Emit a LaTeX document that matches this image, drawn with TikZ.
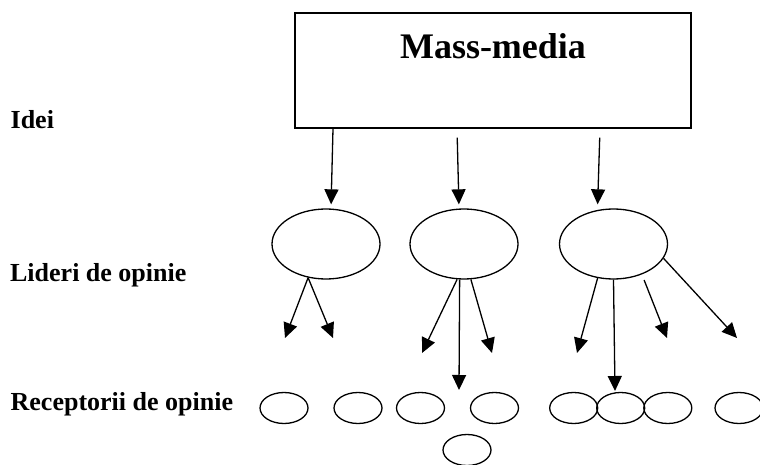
\documentclass[tikz,border=0pt]{standalone}
\usepackage{fontspec}
\setmainfont{Liberation Serif}
\usetikzlibrary{arrows.meta,shapes.geometric}
\begin{document}
\begin{tikzpicture}[x=1pt, y=-1pt, line width=1.3pt,
    arr/.style={-{Triangle[length=15pt,width=14pt]}},
    lider/.style={draw, ellipse, inner sep=0pt, minimum width=108pt, minimum height=70pt},
    receptor/.style={draw, ellipse, inner sep=0pt, minimum width=48pt, minimum height=31pt},
    rowlabel/.style={anchor=base west, inner sep=0pt, font=\fontsize{26}{30}\selectfont\bfseries}]
    \useasboundingbox (0,0) rectangle (760,465);
    % levels
    \node [rowlabel] (idei) at (10,129) {Idei};
    \node [rowlabel] (lideri) at (9.5,281) {Lideri de opinie};
    \node [rowlabel] (receptori) at (10,410) {Receptorii de opinie};
    % sursa
    \node [draw, anchor=base, inner sep=0pt, text height=46pt, text depth=69pt, minimum width=396pt,
           font=\fontsize{36}{40}\selectfont\bfseries] (MM) at (493,59) {Mass-media};
    % lideri de opinie
    \node [lider] (L1) at (326,244) {};
    \node [lider] (L2) at (464,244) {};
    \node [lider] (L3) at (613.5,244) {};
    % receptori
    \node [receptor] (R1) at (284,408) {};
    \node [receptor] (R2) at (358,408) {};
    \node [receptor] (R3) at (420.5,408) {};
    \node [receptor] (R4) at (494.5,408) {};
    \node [receptor] (R5) at (573.7,408) {};
    \node [receptor] (R6) at (620.7,408) {};
    \node [receptor] (R7) at (667.8,408) {};
    \node [receptor] (R8) at (739,408) {};
    \node [receptor] (R9) at (467,450) {};
    % capete libere
    \coordinate (t11) at (285,338);
    \coordinate (t12) at (333,338);
    \coordinate (t21) at (422,353);
    \coordinate (t22) at (459,390);
    \coordinate (t23) at (492,353);
    \coordinate (t31) at (577,353);
    \coordinate (t32) at (615,391);
    \coordinate (t33) at (667,338);
    \coordinate (t34) at (737,338);
    % idei
    \path[arr, shorten >=4pt] ([xshift=-160pt]MM.south) edge ([xshift=5pt]L1.north);
    \path[arr, shorten >=4pt, shorten <=9pt] ([xshift=-36pt]MM.south) edge ([xshift=-5pt]L2.north);
    \path[arr, shorten >=4pt, shorten <=9pt] ([xshift=107pt]MM.south) edge ([xshift=-16pt]L3.north);
    % opinii
    \path[arr] (L1.-118) edge (t11);
    \path[arr] (L1.-118) edge (t12);
    \path[arr] (L2.-101) edge (t21);
    \path[arr] (L2.-97) edge (t22);
    \path[arr] (L2.-79) edge (t23);
    \path[arr] (L3.-115) edge (t31);
    \path[arr] (L3.south) edge (t32);
    \path[arr, shorten <=6pt] (L3.-47) edge (t33);
    \path[arr] (L3.-16) edge (t34);
\end{tikzpicture}
\end{document}
